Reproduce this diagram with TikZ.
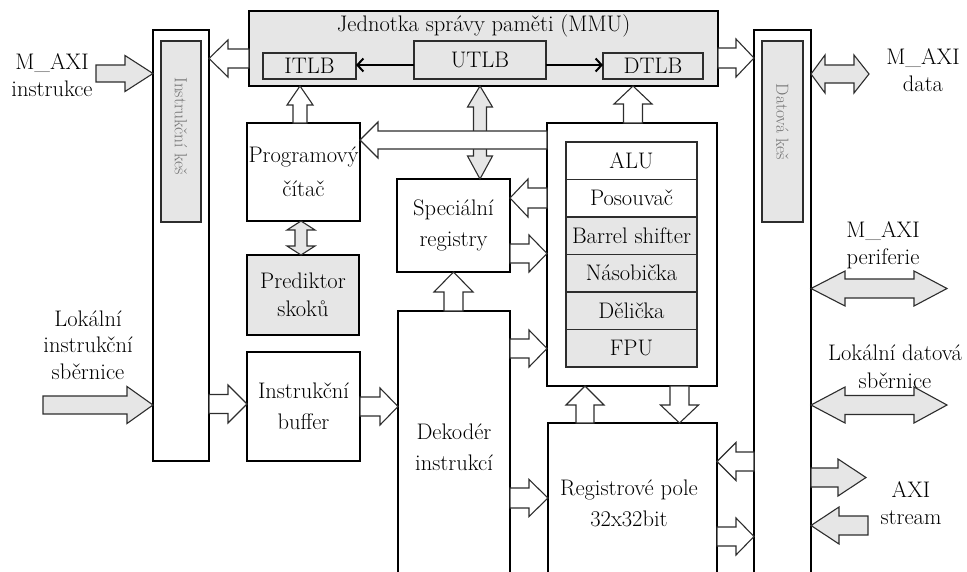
\documentclass[tikz,border=0pt]{standalone}
\usepackage{fontspec}
\usetikzlibrary{calc,arrows.meta}

\definecolor{unitgray}{RGB}{230,230,230}
\definecolor{edgegray}{RGB}{45,45,45}
\definecolor{labelgray}{RGB}{115,115,115}

\tikzset{
  txt/.style={font=\fontsize{22.5}{31}\selectfont, align=center, inner sep=0pt},
  lbl/.style={font=\fontsize{22.5}{26.5}\selectfont, align=center, inner sep=0pt},
  unit/.style={draw=black, line width=2.6pt, rectangle, inner sep=0pt, outer sep=0pt, fill=white, txt},
  grayunit/.style={unit, fill=unitgray},
  sub/.style={draw=edgegray, line width=1.3pt, rectangle, inner sep=0pt, outer sep=0pt, fill=unitgray, txt},
  whitesub/.style={sub, fill=white},
  blockarrow/.style={draw=edgegray, line width=1.1pt, line join=miter},
  tlbline/.style={line width=2pt, -{Straight Barb[length=6pt,width=13pt,line width=2pt]}},
  cachelabel/.style={font=\fontsize{17.5}{20}\selectfont, text=labelgray, rotate=-90, inner sep=0pt},
}

% horizontal block arrow: [fill]{tail}{tip}{y}{half body}{half head}{head length, signed}
\newcommand\harrow[7][white]{%
  \draw[blockarrow,fill=#1]
    ($(#2 |- 0,#4)+(0,-#5)$)
 -- ($(#3 |- 0,#4)+({-(#7)},-#5)$)
 -- ($(#3 |- 0,#4)+({-(#7)},-#6)$)
 -- (#3 |- 0,#4)
 -- ($(#3 |- 0,#4)+({-(#7)},#6)$)
 -- ($(#3 |- 0,#4)+({-(#7)},#5)$)
 -- ($(#2 |- 0,#4)+(0,#5)$) -- cycle;}

% vertical block arrow: [fill]{tail}{tip}{x}{half body}{half head}{head length, signed}
\newcommand\varrow[7][white]{%
  \draw[blockarrow,fill=#1]
    ($(#4,0 |- #2)+(-#5,0)$)
 -- ($(#4,0 |- #3)+(-#5,{-(#7)})$)
 -- ($(#4,0 |- #3)+(-#6,{-(#7)})$)
 -- (#4,0 |- #3)
 -- ($(#4,0 |- #3)+(#6,{-(#7)})$)
 -- ($(#4,0 |- #3)+(#5,{-(#7)})$)
 -- ($(#4,0 |- #2)+(#5,0)$) -- cycle;}

% horizontal double block arrow: [fill]{left tip}{right tip}{y}{half body}{half head}{left head}{right head}
\newcommand\hdarrow[8][white]{%
  \draw[blockarrow,fill=#1]
    (#2 |- 0,#4)
 -- ($(#2 |- 0,#4)+(#7,-#6)$)
 -- ($(#2 |- 0,#4)+(#7,-#5)$)
 -- ($(#3 |- 0,#4)+(-#8,-#5)$)
 -- ($(#3 |- 0,#4)+(-#8,-#6)$)
 -- (#3 |- 0,#4)
 -- ($(#3 |- 0,#4)+(-#8,#6)$)
 -- ($(#3 |- 0,#4)+(-#8,#5)$)
 -- ($(#2 |- 0,#4)+(#7,#5)$)
 -- ($(#2 |- 0,#4)+(#7,#6)$) -- cycle;}

% vertical double block arrow: [fill]{top tip}{bottom tip}{x}{half body}{half head}{top head}{bottom head}
\newcommand\vdarrow[8][white]{%
  \draw[blockarrow,fill=#1]
    (#4,0 |- #2)
 -- ($(#4,0 |- #2)+(-#6,#7)$)
 -- ($(#4,0 |- #2)+(-#5,#7)$)
 -- ($(#4,0 |- #3)+(-#5,-#8)$)
 -- ($(#4,0 |- #3)+(-#6,-#8)$)
 -- (#4,0 |- #3)
 -- ($(#4,0 |- #3)+(#6,-#8)$)
 -- ($(#4,0 |- #3)+(#5,-#8)$)
 -- ($(#4,0 |- #2)+(#5,#7)$)
 -- ($(#4,0 |- #2)+(#6,#7)$) -- cycle;}

\begin{document}
\begin{tikzpicture}[x=1pt,y=1pt,yscale=-1]
\useasboundingbox (0,0) rectangle (967,571);
\clip (0,0) rectangle (967,571);

% caches
\node[unit, minimum width=56pt, minimum height=431pt] (icache) at (181,245.5) {};
\node[sub, minimum width=40pt, minimum height=181pt] (icin) at (181,131.5) {};
\node[cachelabel] (iclabel) at (181,126) {Instrukční keš};
\node[unit, minimum width=57pt, minimum height=600pt] (dcache) at (782.5,330) {};
\node[sub, minimum width=41pt, minimum height=181pt] (dcin) at (782.5,131.5) {};
\node[cachelabel] (dclabel) at (782.5,122) {Datová keš};

% memory management unit
\node[grayunit, minimum width=469pt, minimum height=75pt] (mmu) at (483.5,48.5) {};
\node[txt, anchor=base] (mmutitle) at (483.5,31) {Jednotka správy paměti (MMU)};
\node[sub, minimum width=93pt, minimum height=26pt] (itlb) at (309.5,66) {ITLB};
\node[sub, minimum width=132pt, minimum height=38pt] (utlb) at (480,60) {UTLB};
\node[sub, minimum width=100pt, minimum height=26pt] (dtlb) at (653,66) {DTLB};
\draw[tlbline] (utlb.west |- 0,65) -- (itlb.east |- 0,65);
\draw[tlbline] (utlb.east |- 0,65) -- (dtlb.west |- 0,65);

% front end
\node[unit, minimum width=113pt, minimum height=98pt] (pc) at (303.5,172) {Programový\\[3pt]čítač};
\node[grayunit, minimum width=112pt, minimum height=80pt] (pred) at (303,295) {Prediktor\\[-3pt]skoků};
\node[unit, minimum width=113pt, minimum height=109pt] (ibuf) at (303.5,406.5) {Instrukční\\buffer};
\node[unit, minimum width=113pt, minimum height=93pt] (sreg) at (453.5,225.5) {Speciální\\registry};
\node[unit, minimum width=112pt, minimum height=319pt] (dec) at (454,470.5) {};
\node[txt] (dectext) at (454,447) {Dekodér\\instrukcí};

% execution units
\node[unit, minimum width=170pt, minimum height=263pt] (exec) at (632,254.5) {};
\node[whitesub, minimum width=131pt, minimum height=37.5pt] (alu) at (631.5,160.75) {ALU};
\node[whitesub, minimum width=131pt, minimum height=37.5pt] (shift) at (631.5,198.25) {Posouvač};
\node[sub, minimum width=131pt, minimum height=37.5pt] (barrel) at (631.5,235.75) {Barrel shifter};
\node[sub, minimum width=131pt, minimum height=37.5pt] (mul) at (631.5,273.25) {Násobička};
\node[sub, minimum width=131pt, minimum height=37.5pt] (div) at (631.5,310.75) {Dělička};
\node[sub, minimum width=131pt, minimum height=37.5pt] (fpu) at (631.5,348.25) {FPU};

% register file
\node[unit, minimum width=169pt, minimum height=207pt] (regs) at (632.5,526.5) {};
\node[txt] (regstext) at (629,503) {Registrové pole\\32x32bit};

% free ends of the external buses
\coordinate (maxiI) at (96,73.5);
\coordinate (locI) at (43,405);
\coordinate (maxiD) at (869,74);
\coordinate (maxiP) at (947,288.5);
\coordinate (locD) at (947,405);
\coordinate (strOut) at (866,477.5);
\coordinate (strIn) at (868,525.5);

% external buses
\harrow[unitgray]{maxiI}{icache.west}{73.5}{8.5}{18}{28}
\harrow[unitgray]{locI}{icache.west}{405}{9}{18.5}{26}
\hdarrow[unitgray]{dcache.east}{maxiD}{74}{9}{19}{14}{15}
\hdarrow[unitgray]{dcache.east}{maxiP}{288.5}{9.5}{17.5}{34}{33}
\hdarrow[unitgray]{dcache.east}{locD}{405}{9.5}{18}{34}{33}
\harrow[unitgray]{dcache.east}{strOut}{477.5}{9.5}{18.5}{28}
\harrow[unitgray]{strIn}{dcache.east}{525.5}{9.5}{18.5}{-28}

% internal data paths
\harrow{mmu.west}{icache.east}{58.5}{9.5}{18.5}{-19}
\harrow{mmu.east}{dcache.west}{58}{10}{19}{18}
\varrow{pc.north}{mmu.south}{300}{7}{13}{-19}
\varrow{exec.north}{mmu.south}{633}{9.5}{19}{-18}
\vdarrow[unitgray]{mmu.south}{sreg.north}{480}{6.5}{12.5}{21}{23}
\harrow{exec.west}{pc.east}{140}{9}{18}{-18}
\vdarrow[unitgray]{pc.south}{pred.north}{301}{6}{14}{9}{9}
\harrow{exec.west}{sreg.east}{198}{10}{19}{-18}
\harrow{sreg.east}{exec.west}{253.5}{9.5}{18.5}{18}
\varrow{dec.north}{sreg.south}{453.5}{9.5}{19.5}{-20}
\harrow{dec.east}{exec.west}{348.5}{9.5}{18.5}{18}
\harrow{icache.east}{ibuf.west}{404}{9.5}{19}{19}
\harrow{ibuf.east}{dec.west}{406.5}{9.5}{18.5}{18}
\varrow{regs.north}{exec.south}{585}{9}{19}{-19}
\varrow{exec.south}{regs.north}{679.5}{9.5}{19}{18}
\harrow{dec.east}{regs.west}{498}{10}{18.5}{19}
\harrow{dcache.west}{regs.east}{461.5}{9.5}{19}{-19}
\harrow{regs.east}{dcache.west}{536.5}{9.5}{18.5}{18}

% bus labels
\node[lbl] (lblMaxiI) at (52,75) {M\_AXI\\instrukce};
\node[lbl] (lblLocI) at (88,345) {Lokální\\instrukční\\sběrnice};
\node[lbl] (lblMaxiD) at (923,70) {M\_AXI\\data};
\node[lbl] (lblMaxiP) at (883,245) {M\_AXI\\periferie};
\node[lbl] (lblLocD) at (895,367) {Lokální datová\\[2pt]sběrnice};
\node[lbl] (lblStream) at (911,503) {AXI\\stream};
\end{tikzpicture}
\end{document}
